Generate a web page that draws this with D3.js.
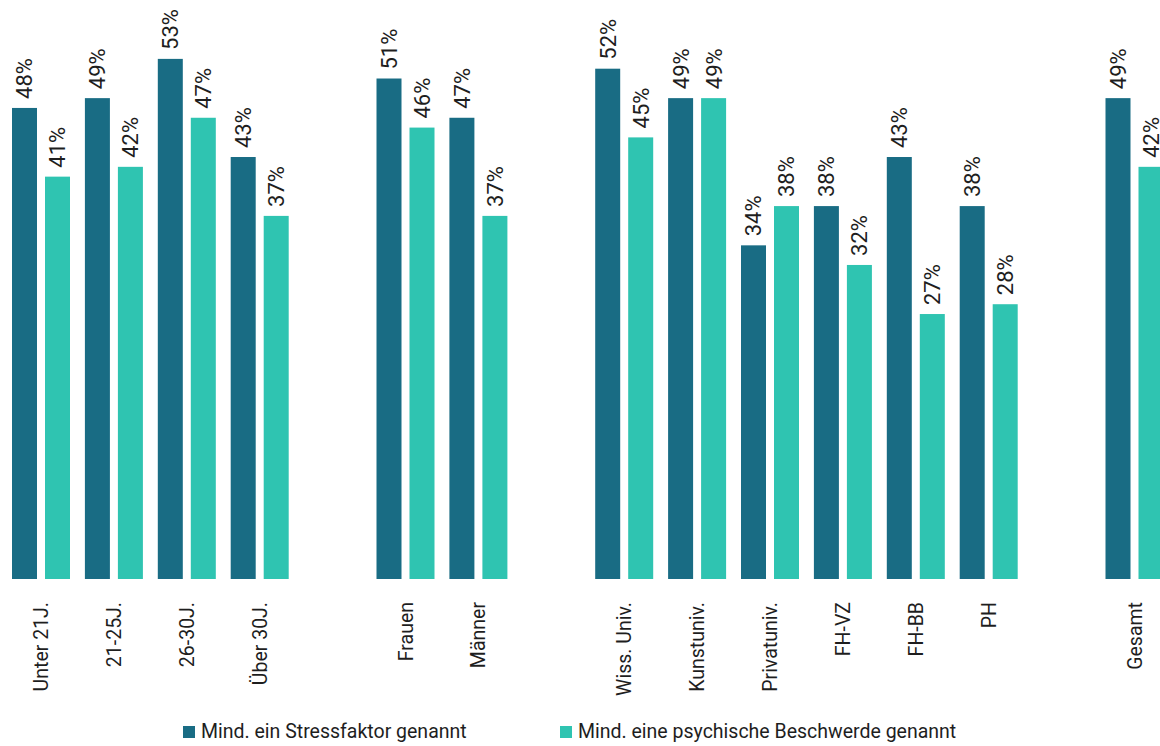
<!DOCTYPE html>
<html lang="de">
<head>
<meta charset="utf-8">
<script src="https://cdn.jsdelivr.net/npm/d3@7/dist/d3.min.js"></script>
<style>
  html, body { margin: 0; padding: 0; background: #ffffff; }
  svg { display: block; }
  text {
    font-family: Roboto, "DejaVu Sans Condensed", sans-serif;
    fill: #1e1e1e;
  }
</style>
</head>
<body>
<svg id="chart" width="1160" height="746"></svg>
<script>
// Student survey: share naming at least one stress factor / one psychological complaint
const groupAge      = ["Unter 21J.", "21-25J.", "26-30J.", "Über 30J."];
const groupGender   = ["Frauen", "Männer"];
const groupSchool   = ["Wiss. Univ.", "Kunstuniv.", "Privatuniv.", "FH-VZ", "FH-BB", "PH"];
const groupTotal    = ["Gesamt"];
const groups = [groupAge, groupGender, groupSchool, groupTotal];

const categories = [...groupAge, ...groupGender, ...groupSchool, ...groupTotal];
const stressValues = [48, 49, 53, 43, 51, 47, 52, 49, 34, 38, 43, 38, 49];
const psychValues  = [41, 42, 47, 37, 46, 37, 45, 49, 38, 32, 27, 28, 42];

const seriesKeys   = ["stress", "psych"];
const seriesLabels = ["Mind. ein Stressfaktor genannt", "Mind. eine psychische Beschwerde genannt"];
const seriesColors = ["#196c84", "#2fc4b1"];

const rows = categories.map((c, i) => ({ cat: c, stress: stressValues[i], psych: psychValues[i] }));

// slot list: categories with one empty slot between groups
const slots = [];
groups.forEach((g, gi) => {
  g.forEach(c => slots.push(c));
  if (gi < groups.length - 1) slots.push("__gap" + gi);
});

const svg = d3.select("#chart");

const step = 72.9;
const x0 = d3.scaleBand()
  .domain(slots)
  .range([12, 12 + slots.length * step])
  .paddingInner(0).paddingOuter(0);

const x1 = d3.scaleBand()
  .domain(seriesKeys)
  .range([0, 58])
  .paddingInner(0.2424).paddingOuter(0);

const y = d3.scaleLinear().domain([0, 59]).range([579, 0]);

const color = d3.scaleOrdinal().domain(seriesKeys).range(seriesColors);

const cat = svg.append("g").selectAll("g.cat")
  .data(rows)
  .join("g")
  .attr("class", "cat")
  .attr("transform", d => `translate(${x0(d.cat)},0)`);

// bars
cat.selectAll("rect")
  .data(d => seriesKeys.map(k => ({ key: k, value: d[k] })))
  .join("rect")
  .attr("x", d => x1(d.key))
  .attr("width", x1.bandwidth())
  .attr("y", d => y(d.value))
  .attr("height", d => y(0) - y(d.value))
  .attr("fill", d => color(d.key));

// value labels, rotated above each bar
cat.selectAll("text.val")
  .data(d => seriesKeys.map(k => ({ key: k, value: d[k] })))
  .join("text")
  .attr("class", "val")
  .attr("transform", d => `translate(${x1(d.key) + x1.bandwidth() / 2},${y(d.value) - 9}) rotate(-90)`)
  .attr("dy", "0.36em")
  .attr("text-anchor", "start")
  .style("font-size", "22px")
  .text(d => d.value + "%");

// category axis labels, rotated
const xAxis = d3.axisBottom(x0)
  .tickValues(categories)
  .tickSize(0)
  .tickPadding(0);

const axisG = svg.append("g")
  .attr("transform", "translate(0,602)")
  .call(xAxis);
axisG.select(".domain").remove();
axisG.selectAll(".tick")
  .attr("transform", d => `translate(${x0(d) + 29},0)`);
axisG.selectAll(".tick text")
  .attr("transform", "rotate(-90)")
  .attr("x", 0)
  .attr("y", 0)
  .attr("dy", "0.36em")
  .attr("text-anchor", "end")
  .style("font-family", "Roboto, sans-serif")
  .style("font-size", "19.5px")
  .style("fill", "#1e1e1e");

// legend
const legendX = [183, 560];
const legend = svg.append("g").selectAll("g.leg")
  .data(seriesKeys)
  .join("g")
  .attr("class", "leg")
  .attr("transform", (d, i) => `translate(${legendX[i]},0)`);
legend.append("rect")
  .attr("x", 0).attr("y", 726)
  .attr("width", 12).attr("height", 12)
  .attr("fill", d => color(d));
legend.append("text")
  .attr("x", 18).attr("y", 738)
  .style("font-size", "19.5px")
  .text((d, i) => seriesLabels[i]);
</script>
</body>
</html>
